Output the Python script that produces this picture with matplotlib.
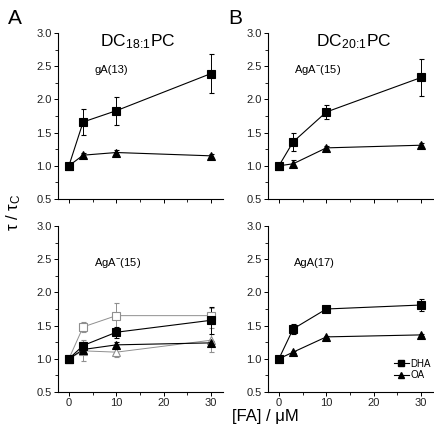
import numpy as np
import matplotlib
matplotlib.use('Agg')
from matplotlib import pyplot as plt
from matplotlib.ticker import MultipleLocator, FormatStrFormatter
from matplotlib.lines import Line2D

plt.rcParams['font.family'] = ['Liberation Sans', 'DejaVu Sans']
plt.rcParams['mathtext.fontset'] = 'custom'
plt.rcParams['mathtext.rm'] = 'Liberation Sans'
plt.rcParams['mathtext.it'] = 'Liberation Sans'
plt.rcParams['mathtext.bf'] = 'Liberation Sans:bold'

conc = [0, 3, 10, 30]

# DC18:1PC, gA(13)
a_top_dha = [1.0, 1.66, 1.83, 2.39]
a_top_dha_err = [0.02, 0.20, 0.21, 0.30]
a_top_oa = [1.0, 1.16, 1.20, 1.15]
a_top_oa_err = [0.02, 0.04, 0.04, 0.03]

# DC18:1PC, AgA-(15)
a_bot_dha = [1.0, 1.20, 1.40, 1.58]
a_bot_dha_err = [0.02, 0.05, 0.08, 0.20]
a_bot_oa = [1.0, 1.14, 1.21, 1.24]
a_bot_oa_err = [0.02, 0.04, 0.05, 0.03]
a_bot_dha_open = [1.0, 1.48, 1.65, 1.65]
a_bot_dha_open_err = [0.02, 0.08, 0.19, 0.12]
a_bot_oa_open = [1.0, 1.12, 1.10, 1.28]
a_bot_oa_open_err = [0.02, 0.16, 0.08, 0.18]

# DC20:1PC, AgA-(15)
b_top_dha = [1.0, 1.36, 1.81, 2.33]
b_top_dha_err = [0.02, 0.14, 0.10, 0.28]
b_top_oa = [1.0, 1.03, 1.27, 1.31]
b_top_oa_err = [0.02, 0.05, 0.03, 0.04]

# DC20:1PC, AgA(17)
b_bot_dha = [1.0, 1.45, 1.75, 1.81]
b_bot_dha_err = [0.02, 0.08, 0.02, 0.09]
b_bot_oa = [1.0, 1.10, 1.33, 1.36]
b_bot_oa_err = [0.02, 0.02, 0.02, 0.02]

W, H = 434, 432
fig = plt.figure(figsize=(W / 100, H / 100), dpi=100)

def box(x0, y0, x1, y1):
    return [x0 / W, 1 - y1 / H, (x1 - x0) / W, (y1 - y0) / H]

ax_tl = fig.add_axes(box(58, 33, 223, 199))
ax_bl = fig.add_axes(box(58, 226, 223, 392))
ax_tr = fig.add_axes(box(268, 33, 433, 199))
ax_br = fig.add_axes(box(268, 226, 433, 392))

def style(ax, xlabels):
    ax.set_xlim(-2.3, 32.5)
    ax.set_ylim(0.5, 3.0)
    ax.spines['top'].set_visible(False)
    ax.spines['right'].set_visible(False)
    ax.spines['left'].set_linewidth(0.8)
    ax.spines['bottom'].set_linewidth(0.8)
    ax.xaxis.set_major_locator(MultipleLocator(10))
    ax.xaxis.set_minor_locator(MultipleLocator(5))
    ax.yaxis.set_major_locator(MultipleLocator(0.5))
    ax.yaxis.set_minor_locator(MultipleLocator(0.25))
    ax.tick_params(which='major', direction='out', length=3, width=0.7, labelsize=8, pad=1.5,
                   labelcolor='#222222')
    ax.tick_params(which='minor', direction='out', length=2, width=0.6)
    ax.yaxis.set_major_formatter(FormatStrFormatter('%.1f'))
    if not xlabels:
        ax.tick_params(axis='x', labelbottom=False)

def series(ax, y, err, marker, color='black', face='black', lw=0.8):
    ax.errorbar(conc, y, yerr=err, color=color, marker=marker, markersize=5.5,
                markerfacecolor=face, markeredgecolor=color, markeredgewidth=0.8,
                linewidth=lw, elinewidth=0.7, capsize=1.8, capthick=0.7)

series(ax_tl, a_top_dha, a_top_dha_err, 's')
series(ax_tl, a_top_oa, a_top_oa_err, '^')
series(ax_bl, a_bot_dha_open, a_bot_dha_open_err, 's', color='#8f8f8f', face='white', lw=0.7)
series(ax_bl, a_bot_oa_open, a_bot_oa_open_err, '^', color='#8f8f8f', face='white', lw=0.7)
series(ax_bl, a_bot_dha, a_bot_dha_err, 's')
series(ax_bl, a_bot_oa, a_bot_oa_err, '^')
series(ax_tr, b_top_dha, b_top_dha_err, 's')
series(ax_tr, b_top_oa, b_top_oa_err, '^')
series(ax_br, b_bot_dha, b_bot_dha_err, 's')
series(ax_br, b_bot_oa, b_bot_oa_err, '^')

style(ax_tl, False)
style(ax_tr, False)
style(ax_bl, True)
style(ax_br, True)

ax_tl.text(0.485, 0.945, r'DC$_{18\!:\!1}$PC', transform=ax_tl.transAxes, ha='center', va='center', fontsize=12.5)
ax_tr.text(0.52, 0.945, r'DC$_{20\!:\!1}$PC', transform=ax_tr.transAxes, ha='center', va='center', fontsize=12.5)
ax_tl.text(0.22, 0.78, 'gA(13)', transform=ax_tl.transAxes, ha='left', va='center', fontsize=8)
ax_tr.text(0.16, 0.78, r'AgA$^{-}$(15)', transform=ax_tr.transAxes, ha='left', va='center', fontsize=8)
ax_bl.text(0.22, 0.78, r'AgA$^{-}$(15)', transform=ax_bl.transAxes, ha='left', va='center', fontsize=8)
ax_br.text(0.16, 0.78, 'AgA(17)', transform=ax_br.transAxes, ha='left', va='center', fontsize=8)

handles = [Line2D([], [], color='black', marker='s', markersize=4, linewidth=0.8),
           Line2D([], [], color='black', marker='^', markersize=4.5, linewidth=0.8)]
ax_br.legend(handles, ['DHA', 'OA'], loc='lower right', bbox_to_anchor=(1.03, 0.03), frameon=False,
             fontsize=7, handlelength=1.6, handletextpad=0.15, labelspacing=0.15, borderpad=0.2)

fig.text(8 / W, 1 - 18 / H, 'A', fontsize=15, ha='left', va='center')
fig.text(228 / W, 1 - 18 / H, 'B', fontsize=15, ha='left', va='center')
fig.text(14 / W, 1 - 212 / H, '\u03c4 / \u03c4$_{\\mathrm{C}}$', rotation=90, fontsize=12, ha='center', va='center')
fig.text(265 / W, 1 - 417 / H, '[FA] / \u03bcM', fontsize=12, ha='center', va='center')

fig.savefig('out.png', dpi=100)
